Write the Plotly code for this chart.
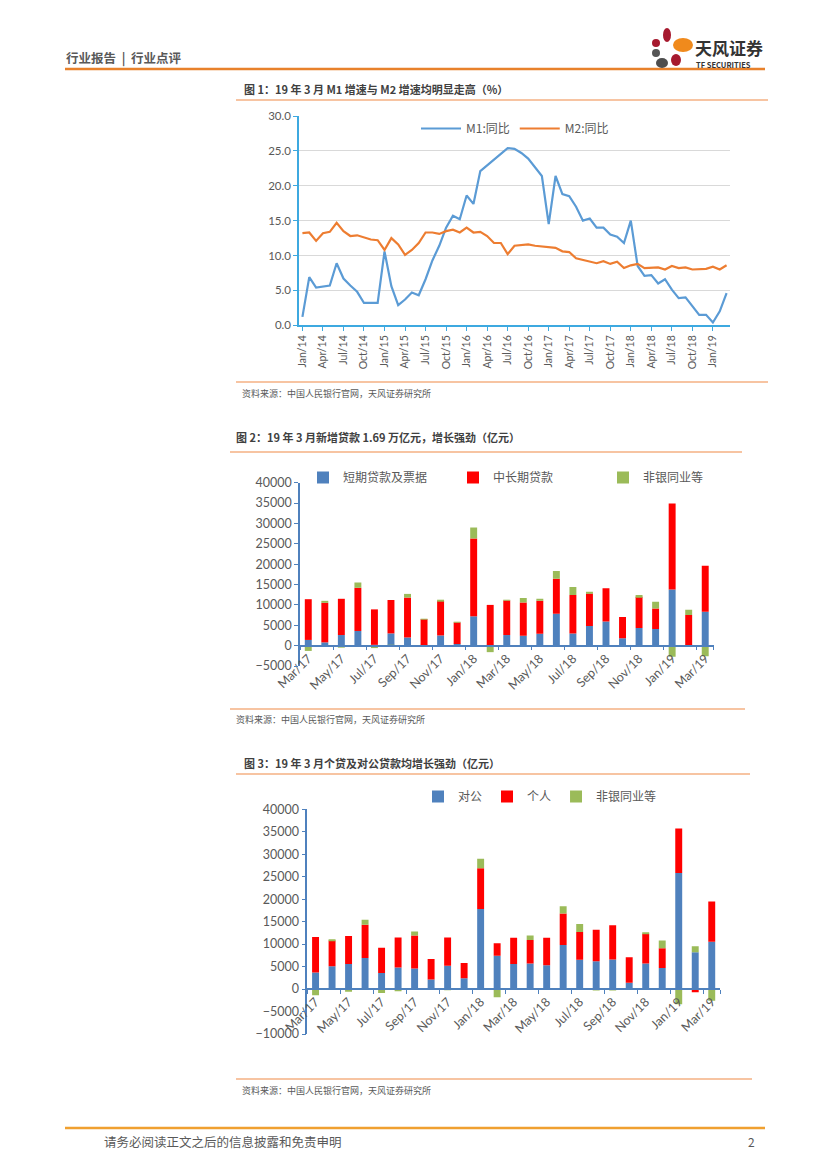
import plotly.graph_objects as go

# page is 827x1169, the html body keeps its 8px default margin
PAGE_W, PAGE_H = 827, 1169
OFF = 8
W, H = PAGE_W - OFF, PAGE_H - 2 * OFF


def fx(px):
    return (px - OFF) / W


def fy(py):
    return 1 - (py - OFF) / H


mon = ["Jan", "Feb", "Mar", "Apr", "May", "Jun", "Jul", "Aug", "Sep", "Oct", "Nov", "Dec"]
months1 = [f"{m}/{y}" for y in range(14, 20) for m in mon][:63]
months2 = months1[38:]  # Mar/17 .. Mar/19

# 图1: M1 / M2 同比 (%)
m1 = [1.2, 6.9, 5.4, 5.5, 5.7, 8.9, 6.7, 5.7, 4.8, 3.2, 3.2, 3.2,
      10.6, 5.6, 2.9, 3.7, 4.7, 4.3, 6.6, 9.3, 11.4, 14.0, 15.7, 15.2,
      18.6, 17.4, 22.1, 22.9, 23.7, 24.6, 25.4, 25.3, 24.7, 23.9, 22.7, 21.4,
      14.5, 21.4, 18.8, 18.5, 17.0, 15.0, 15.3, 14.0, 14.0, 13.0, 12.7, 11.8,
      15.0, 8.5, 7.1, 7.2, 6.0, 6.6, 5.1, 3.9, 4.0, 2.7, 1.5, 1.5,
      0.4, 2.0, 4.6]
m2 = [13.2, 13.3, 12.1, 13.2, 13.4, 14.7, 13.5, 12.8, 12.9, 12.6, 12.3, 12.2,
      10.8, 12.5, 11.6, 10.1, 10.8, 11.8, 13.3, 13.3, 13.1, 13.5, 13.7, 13.3,
      14.0, 13.3, 13.4, 12.8, 11.8, 11.8, 10.2, 11.4, 11.5, 11.6, 11.4, 11.3,
      11.3, 11.1, 10.6, 10.5, 9.6, 9.4, 9.2, 8.9, 9.2, 8.8, 9.1, 8.2,
      8.6, 8.8, 8.2, 8.3, 8.3, 8.0, 8.5, 8.2, 8.3, 8.0, 8.0, 8.1,
      8.4, 8.0, 8.6]

# 图2: 新增贷款 (亿元)
short_loans = [1400, 800, 2600, 3600, 200, 3000, 2000, 100, 2500, 400, 7200, 100, 2600,
               2400, 2900, 7800, 3000, 4800, 5900, 1800, 4300, 4100, 13800, 100, 8300]
long_loans = [10000, 9700, 8900, 10600, 8700, 8200, 9800, 6400, 8500, 5300, 19100, 9900, 8500,
              8200, 8100, 8600, 9400, 8000, 8200, 5200, 7700, 5000, 21100, 7400, 11300]
nonbank2 = [-1300, 500, -500, 1300, -600, -300, 900, 100, 200, 100, 2700, -1600, 100,
            1100, 500, 1900, 2000, 200, 0, 0, 400, 1700, -2700, 1300, -2600]

# 图3: 对公 / 个人 (亿元)
corp = [3700, 5100, 5600, 6900, 3600, 4800, 4600, 2100, 5200, 2400, 17800, 7400, 5600,
        5700, 5300, 9800, 6500, 6200, 6600, 1400, 5700, 4700, 25800, 8200, 10500]
household = [7900, 5700, 6200, 7400, 5600, 6700, 7300, 4600, 6300, 3400, 9100, 2800, 5800,
             5200, 6100, 7000, 6200, 7000, 7600, 5700, 6600, 4400, 9900, -700, 9000]
nonbank3 = [-1400, 200, -600, 1100, -900, -500, 900, 0, -100, 0, 2100, -1800, 0,
            1000, 0, 1600, 1800, -300, -300, 0, 200, 1700, -3400, 1300, -2600]

BLUE = "#4F81BD"
RED = "#FF0000"
GREEN = "#9BBB59"
GREY = "#595959"
ORANGE = "#E8812B"
LIGHT_OR = "#F4B183"
NUMF = "Lato, Open Sans, sans-serif"
CJK = "Noto Sans CJK SC, sans-serif"

fig = go.Figure()

fig.add_trace(go.Scatter(x=months1, y=m1, name="M1:同比", mode="lines",
                         line=dict(color="#5B9BD5", width=2.2), xaxis="x", yaxis="y", legend="legend"))
fig.add_trace(go.Scatter(x=months1, y=m2, name="M2:同比", mode="lines",
                         line=dict(color="#ED7D31", width=2.2), xaxis="x", yaxis="y", legend="legend"))

for name, vals, col in [("短期贷款及票据", short_loans, BLUE), ("中长期贷款", long_loans, RED),
                        ("非银同业等", nonbank2, GREEN)]:
    fig.add_trace(go.Bar(x=months2, y=vals, name=name, marker=dict(color=col, line_width=0),
                         xaxis="x2", yaxis="y2", legend="legend2"))

for name, vals, col in [("对公", corp, BLUE), ("个人", household, RED), ("非银同业等", nonbank3, GREEN)]:
    fig.add_trace(go.Bar(x=months2, y=vals, name=name, marker=dict(color=col, line_width=0),
                         xaxis="x3", yaxis="y3", legend="legend3"))

# axis domains in page pixels
y1dom = [fy(325.3), fy(116)]
y2dom = [fy(666), fy(482.7)]
y3dom = [fy(1034), fy(809.3)]
r2 = [-5000, 40000]
r3 = [-10000, 40000]
zero2 = y2dom[0] + (0 - r2[0]) / (r2[1] - r2[0]) * (y2dom[1] - y2dom[0])
zero3 = y3dom[0] + (0 - r3[0]) / (r3[1] - r3[0]) * (y3dom[1] - y3dom[0])

CYAN = "#3DA9E0"

fig.update_layout(
    template="none",
    width=W, height=H, autosize=False,
    margin=dict(l=0, r=0, t=0, b=0, pad=0),
    paper_bgcolor="white", plot_bgcolor="white",
    barmode="relative", bargap=0.58,
    showlegend=True,
    xaxis=dict(domain=[fx(299), fx(730)], anchor="y", type="category", range=[-0.5, 62.5],
               tickmode="array", tickvals=months1[::3], tickangle=-90, automargin=False,
               tickfont=dict(family=NUMF, size=10.5, color=GREY),
               showline=True, linecolor=CYAN, linewidth=1.5, ticks="outside", ticklen=4,
               tickcolor=CYAN, showgrid=False, zeroline=False),
    yaxis=dict(domain=y1dom, anchor="x", range=[0, 30], dtick=5, tickformat=".1f", automargin=False,
               tickfont=dict(family=NUMF, size=11.5, color=GREY), showgrid=True, gridcolor="#D9D9D9",
               showline=True, linecolor=CYAN, linewidth=1.5, ticks="outside", ticklen=4,
               tickcolor=CYAN, zeroline=False),
    xaxis2=dict(domain=[fx(300), fx(713.5)], anchor="free", position=zero2, type="category",
                range=[-0.5, 24.5], tickmode="array", tickvals=months2[::2], tickangle=-45,
                tickson="boundaries", tickfont=dict(family=NUMF, size=12.5, color=GREY), automargin=False,
                showline=True, linecolor=BLUE, linewidth=1.5, ticks="outside", ticklen=4,
                tickcolor=BLUE, showgrid=False, zeroline=False),
    yaxis2=dict(domain=y2dom, anchor="x2", range=r2, dtick=5000, tickformat="d", automargin=False,
                tickfont=dict(family=NUMF, size=12.5, color=GREY), showgrid=False,
                showline=True, linecolor=BLUE, linewidth=1.5, ticks="outside", ticklen=4,
                tickcolor=BLUE, zeroline=False),
    xaxis3=dict(domain=[fx(307.3), fx(720)], anchor="free", position=zero3, type="category",
                range=[-0.5, 24.5], tickmode="array", tickvals=months2[::2], tickangle=-45,
                tickson="boundaries", tickfont=dict(family=NUMF, size=12.5, color=GREY), automargin=False,
                showline=True, linecolor=BLUE, linewidth=1.5, ticks="outside", ticklen=4,
                tickcolor=BLUE, showgrid=False, zeroline=False),
    yaxis3=dict(domain=y3dom, anchor="x3", range=r3, dtick=5000, tickformat="d", automargin=False,
                tickfont=dict(family=NUMF, size=12.5, color=GREY), showgrid=False,
                showline=True, linecolor=BLUE, linewidth=1.5, ticks="outside", ticklen=4,
                tickcolor=BLUE, zeroline=False),
    legend=dict(orientation="h", x=fx(515), xanchor="center", y=fy(114), yanchor="top",
                font=dict(family=CJK, size=12, color=GREY), bgcolor="rgba(0,0,0,0)",
                itemwidth=40, tracegroupgap=0),
    legend2=dict(orientation="h", x=fx(303), xanchor="left", y=fy(463), yanchor="top",
                 font=dict(family=CJK, size=12, color=GREY), bgcolor="rgba(0,0,0,0)",
                 entrywidth=105, itemwidth=30),
    legend3=dict(orientation="h", x=fx(418), xanchor="left", y=fy(782), yanchor="top",
                 font=dict(family=CJK, size=12, color=GREY), bgcolor="rgba(0,0,0,0)",
                 itemwidth=30),
)

shapes = []
# header / footer rules
shapes.append(dict(type="line", xref="paper", yref="paper", x0=fx(65), x1=fx(765), y0=fy(69), y1=fy(69),
                   line=dict(color=ORANGE, width=2.5)))
shapes.append(dict(type="line", xref="paper", yref="paper", x0=fx(65), x1=fx(765), y0=fy(1128), y1=fy(1128),
                   line=dict(color="#F0A030", width=2.5)))
# figure frame rules
for y, x0, x1 in [(100, 236, 768), (382, 236, 768), (452, 230, 742), (709, 230, 745),
                  (774, 236, 750), (1079, 236, 752)]:
    shapes.append(dict(type="line", xref="paper", yref="paper", x0=fx(x0), x1=fx(x1), y0=fy(y), y1=fy(y),
                       line=dict(color=LIGHT_OR, width=1.3)))
# logo petals
for cx, cy, rx, ry, col in [(667, 35, 4, 7, "#A6192E"), (683, 45, 10, 7, "#F08A1C"),
                            (656, 43, 4, 4, "#A6192E"), (656, 53, 4, 4, "#555555"),
                            (662, 63, 6, 5, "#4D4D4D"), (676, 60, 5, 6, "#A6192E")]:
    shapes.append(dict(type="circle", xref="paper", yref="paper", x0=fx(cx - rx), x1=fx(cx + rx),
                       y0=fy(cy + ry), y1=fy(cy - ry), fillcolor=col, line_width=0))
fig.update_layout(shapes=shapes)

anns = [
    ("行业报告  |  行业点评", 64, 58, 12.5, GREY, True),
    ("天风证券", 693, 47, 17, "#333333", True),
    ("TF SECURITIES", 694, 64, 7.5, "#333333", True),
    ("图 1：19 年 3 月 M1 增速与 M2 增速均明显走高（%）", 242, 89, 11, "#404040", True),
    ("资料来源：中国人民银行官网，天风证券研究所", 240, 393, 9, GREY, False),
    ("图 2：19 年 3 月新增贷款 1.69 万亿元，增长强劲（亿元）", 234, 437, 11, "#404040", True),
    ("资料来源：中国人民银行官网，天风证券研究所", 234, 719, 9, GREY, False),
    ("图 3：19 年 3 月个贷及对公贷款均增长强劲（亿元）", 242, 763, 11, "#404040", True),
    ("资料来源：中国人民银行官网，天风证券研究所", 240, 1090, 9, GREY, False),
    ("请务必阅读正文之后的信息披露和免责申明", 102, 1141, 12.5, GREY, False),
    ("2", 746, 1141, 12, GREY, False),
]
for text, x, y, size, col, bold in anns:
    fig.add_annotation(text=f"<b>{text}</b>" if bold else text, x=fx(x), y=fy(y), xref="paper", yref="paper",
                       xanchor="left", yanchor="middle", showarrow=False,
                       font=dict(family=CJK, size=size, color=col))

fig.write_html("out.html")
